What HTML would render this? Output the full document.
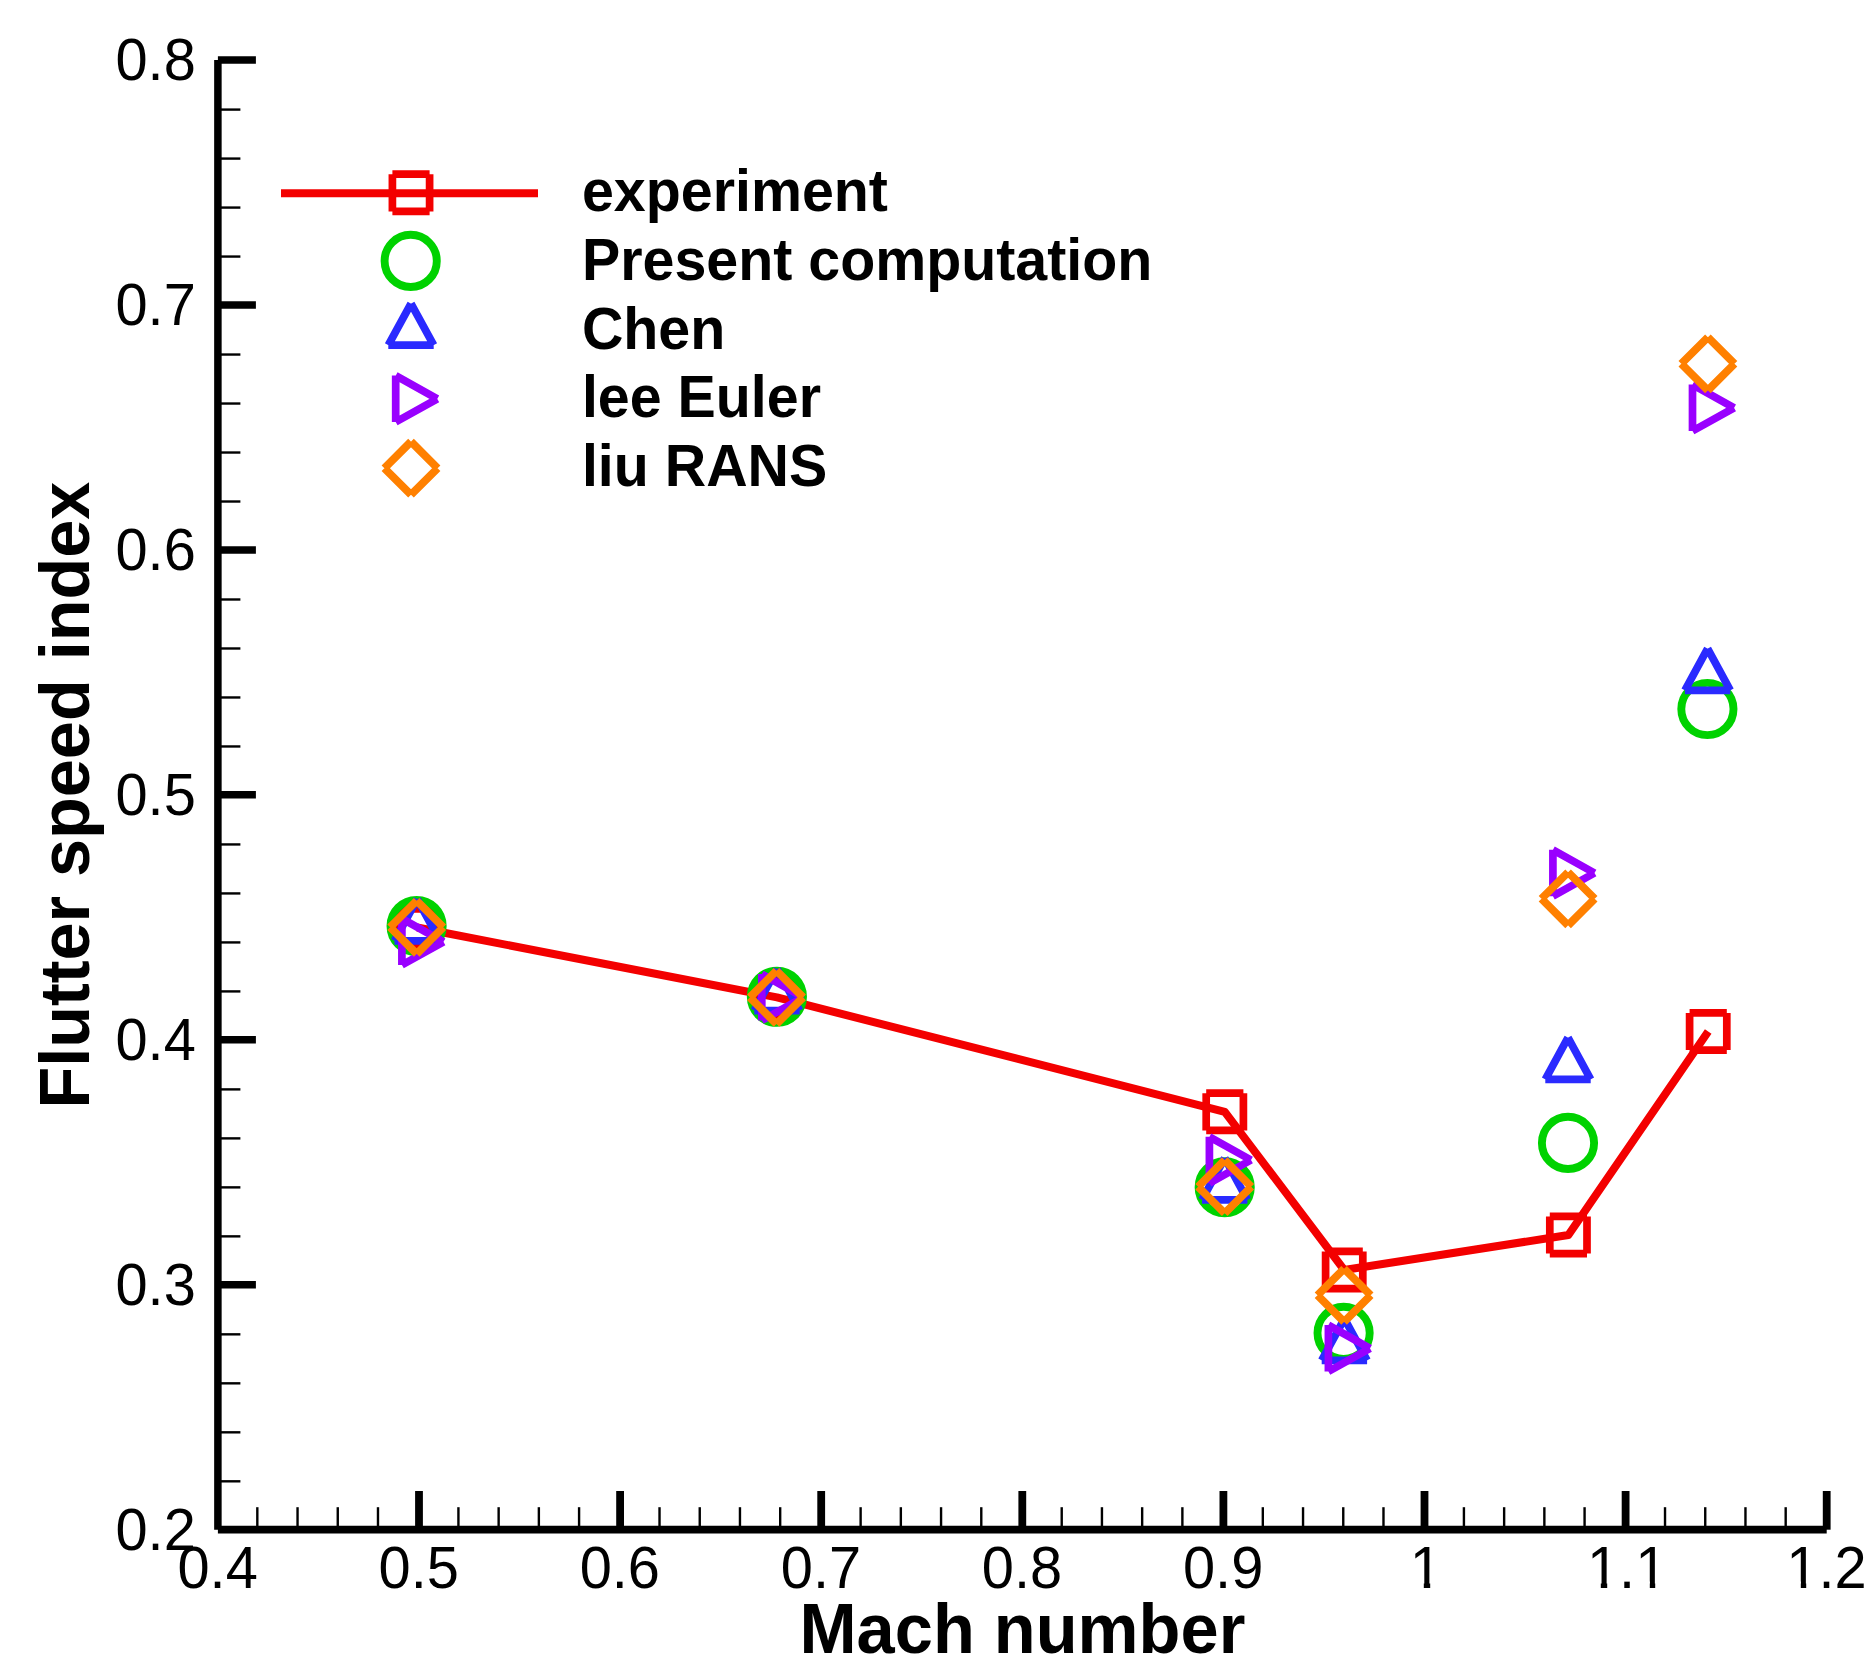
<!DOCTYPE html>
<html lang="en"><head><meta charset="utf-8"><title>Flutter speed index vs Mach number</title>
<style>html,body{margin:0;padding:0;background:#fff;}body{width:1874px;height:1680px;overflow:hidden;}svg{display:block;}text{font-family:"Liberation Sans",sans-serif;fill:#000;}.tk{font-size:59.6px;}.ttl{font-size:71px;font-weight:bold;}.lg{font-size:59.4px;font-weight:bold;}</style></head><body>
<svg role="img" aria-label="Flutter speed index versus Mach number" width="1874" height="1680" viewBox="0 0 1874 1680">
<rect x="0" y="0" width="1874" height="1680" fill="#fff"/>
<g stroke="#000" fill="none" stroke-linecap="butt">
<line x1="217.90" y1="60.00" x2="217.90" y2="1529.70" stroke-width="7.50"/>
<line x1="217.90" y1="1529.70" x2="1826.70" y2="1529.70" stroke-width="7.80"/>
<line x1="217.90" y1="1481.31" x2="240.40" y2="1481.31" stroke-width="2.40"/>
<line x1="217.90" y1="1432.32" x2="240.40" y2="1432.32" stroke-width="2.40"/>
<line x1="217.90" y1="1383.33" x2="240.40" y2="1383.33" stroke-width="2.40"/>
<line x1="217.90" y1="1334.34" x2="240.40" y2="1334.34" stroke-width="2.40"/>
<line x1="217.90" y1="1284.75" x2="255.90" y2="1284.75" stroke-width="7.50"/>
<line x1="217.90" y1="1236.36" x2="240.40" y2="1236.36" stroke-width="2.40"/>
<line x1="217.90" y1="1187.37" x2="240.40" y2="1187.37" stroke-width="2.40"/>
<line x1="217.90" y1="1138.38" x2="240.40" y2="1138.38" stroke-width="2.40"/>
<line x1="217.90" y1="1089.39" x2="240.40" y2="1089.39" stroke-width="2.40"/>
<line x1="217.90" y1="1039.80" x2="255.90" y2="1039.80" stroke-width="7.50"/>
<line x1="217.90" y1="991.41" x2="240.40" y2="991.41" stroke-width="2.40"/>
<line x1="217.90" y1="942.42" x2="240.40" y2="942.42" stroke-width="2.40"/>
<line x1="217.90" y1="893.43" x2="240.40" y2="893.43" stroke-width="2.40"/>
<line x1="217.90" y1="844.44" x2="240.40" y2="844.44" stroke-width="2.40"/>
<line x1="217.90" y1="794.85" x2="255.90" y2="794.85" stroke-width="7.50"/>
<line x1="217.90" y1="746.46" x2="240.40" y2="746.46" stroke-width="2.40"/>
<line x1="217.90" y1="697.47" x2="240.40" y2="697.47" stroke-width="2.40"/>
<line x1="217.90" y1="648.48" x2="240.40" y2="648.48" stroke-width="2.40"/>
<line x1="217.90" y1="599.49" x2="240.40" y2="599.49" stroke-width="2.40"/>
<line x1="217.90" y1="549.90" x2="255.90" y2="549.90" stroke-width="7.50"/>
<line x1="217.90" y1="501.51" x2="240.40" y2="501.51" stroke-width="2.40"/>
<line x1="217.90" y1="452.52" x2="240.40" y2="452.52" stroke-width="2.40"/>
<line x1="217.90" y1="403.53" x2="240.40" y2="403.53" stroke-width="2.40"/>
<line x1="217.90" y1="354.54" x2="240.40" y2="354.54" stroke-width="2.40"/>
<line x1="217.90" y1="304.95" x2="255.90" y2="304.95" stroke-width="7.50"/>
<line x1="217.90" y1="256.56" x2="240.40" y2="256.56" stroke-width="2.40"/>
<line x1="217.90" y1="207.57" x2="240.40" y2="207.57" stroke-width="2.40"/>
<line x1="217.90" y1="158.58" x2="240.40" y2="158.58" stroke-width="2.40"/>
<line x1="217.90" y1="109.59" x2="240.40" y2="109.59" stroke-width="2.40"/>
<line x1="217.90" y1="60.00" x2="255.90" y2="60.00" stroke-width="7.50"/>
<line x1="257.32" y1="1529.70" x2="257.32" y2="1507.20" stroke-width="2.40"/>
<line x1="297.54" y1="1529.70" x2="297.54" y2="1507.20" stroke-width="2.40"/>
<line x1="337.76" y1="1529.70" x2="337.76" y2="1507.20" stroke-width="2.40"/>
<line x1="377.98" y1="1529.70" x2="377.98" y2="1507.20" stroke-width="2.40"/>
<line x1="419.00" y1="1529.70" x2="419.00" y2="1491.00" stroke-width="7.80"/>
<line x1="458.42" y1="1529.70" x2="458.42" y2="1507.20" stroke-width="2.40"/>
<line x1="498.64" y1="1529.70" x2="498.64" y2="1507.20" stroke-width="2.40"/>
<line x1="538.86" y1="1529.70" x2="538.86" y2="1507.20" stroke-width="2.40"/>
<line x1="579.08" y1="1529.70" x2="579.08" y2="1507.20" stroke-width="2.40"/>
<line x1="620.10" y1="1529.70" x2="620.10" y2="1491.00" stroke-width="7.80"/>
<line x1="659.52" y1="1529.70" x2="659.52" y2="1507.20" stroke-width="2.40"/>
<line x1="699.74" y1="1529.70" x2="699.74" y2="1507.20" stroke-width="2.40"/>
<line x1="739.96" y1="1529.70" x2="739.96" y2="1507.20" stroke-width="2.40"/>
<line x1="780.18" y1="1529.70" x2="780.18" y2="1507.20" stroke-width="2.40"/>
<line x1="821.20" y1="1529.70" x2="821.20" y2="1491.00" stroke-width="7.80"/>
<line x1="860.62" y1="1529.70" x2="860.62" y2="1507.20" stroke-width="2.40"/>
<line x1="900.84" y1="1529.70" x2="900.84" y2="1507.20" stroke-width="2.40"/>
<line x1="941.06" y1="1529.70" x2="941.06" y2="1507.20" stroke-width="2.40"/>
<line x1="981.28" y1="1529.70" x2="981.28" y2="1507.20" stroke-width="2.40"/>
<line x1="1022.30" y1="1529.70" x2="1022.30" y2="1491.00" stroke-width="7.80"/>
<line x1="1061.72" y1="1529.70" x2="1061.72" y2="1507.20" stroke-width="2.40"/>
<line x1="1101.94" y1="1529.70" x2="1101.94" y2="1507.20" stroke-width="2.40"/>
<line x1="1142.16" y1="1529.70" x2="1142.16" y2="1507.20" stroke-width="2.40"/>
<line x1="1182.38" y1="1529.70" x2="1182.38" y2="1507.20" stroke-width="2.40"/>
<line x1="1223.40" y1="1529.70" x2="1223.40" y2="1491.00" stroke-width="7.80"/>
<line x1="1262.82" y1="1529.70" x2="1262.82" y2="1507.20" stroke-width="2.40"/>
<line x1="1303.04" y1="1529.70" x2="1303.04" y2="1507.20" stroke-width="2.40"/>
<line x1="1343.26" y1="1529.70" x2="1343.26" y2="1507.20" stroke-width="2.40"/>
<line x1="1383.48" y1="1529.70" x2="1383.48" y2="1507.20" stroke-width="2.40"/>
<line x1="1424.50" y1="1529.70" x2="1424.50" y2="1491.00" stroke-width="7.80"/>
<line x1="1463.92" y1="1529.70" x2="1463.92" y2="1507.20" stroke-width="2.40"/>
<line x1="1504.14" y1="1529.70" x2="1504.14" y2="1507.20" stroke-width="2.40"/>
<line x1="1544.36" y1="1529.70" x2="1544.36" y2="1507.20" stroke-width="2.40"/>
<line x1="1584.58" y1="1529.70" x2="1584.58" y2="1507.20" stroke-width="2.40"/>
<line x1="1625.60" y1="1529.70" x2="1625.60" y2="1491.00" stroke-width="7.80"/>
<line x1="1665.02" y1="1529.70" x2="1665.02" y2="1507.20" stroke-width="2.40"/>
<line x1="1705.24" y1="1529.70" x2="1705.24" y2="1507.20" stroke-width="2.40"/>
<line x1="1745.46" y1="1529.70" x2="1745.46" y2="1507.20" stroke-width="2.40"/>
<line x1="1785.68" y1="1529.70" x2="1785.68" y2="1507.20" stroke-width="2.40"/>
<line x1="1826.70" y1="1529.70" x2="1826.70" y2="1491.00" stroke-width="7.80"/>
</g>
<g class="tk">
<text transform="translate(195.80,1550.10) scale(0.9700,1)" text-anchor="end">0.2</text>
<text transform="translate(195.80,1305.15) scale(0.9700,1)" text-anchor="end">0.3</text>
<text transform="translate(195.80,1060.20) scale(0.9700,1)" text-anchor="end">0.4</text>
<text transform="translate(195.80,815.25) scale(0.9700,1)" text-anchor="end">0.5</text>
<text transform="translate(195.80,570.30) scale(0.9700,1)" text-anchor="end">0.6</text>
<text transform="translate(195.80,325.35) scale(0.9700,1)" text-anchor="end">0.7</text>
<text transform="translate(195.80,80.40) scale(0.9700,1)" text-anchor="end">0.8</text>
<text transform="translate(217.60,1587.90) scale(0.9700,1)" text-anchor="middle">0.4</text>
<text transform="translate(418.70,1587.90) scale(0.9700,1)" text-anchor="middle">0.5</text>
<text transform="translate(619.80,1587.90) scale(0.9700,1)" text-anchor="middle">0.6</text>
<text transform="translate(820.90,1587.90) scale(0.9700,1)" text-anchor="middle">0.7</text>
<text transform="translate(1022.00,1587.90) scale(0.9700,1)" text-anchor="middle">0.8</text>
<text transform="translate(1223.10,1587.90) scale(0.9700,1)" text-anchor="middle">0.9</text>
<text transform="translate(1425.90,1587.90) scale(0.9700,1)" text-anchor="middle">1</text>
<text transform="translate(1627.10,1587.90) scale(0.9700,1)" text-anchor="middle">1.1</text>
<text transform="translate(1826.40,1587.90) scale(0.9700,1)" text-anchor="middle">1.2</text>
</g>
<text class="ttl" transform="translate(1022.40,1652.80) scale(0.9660,1)" text-anchor="middle">Mach number</text>
<text class="ttl" transform="translate(89.40,795.20) rotate(-90) scale(0.9631,1)" text-anchor="middle">Flutter speed index</text>
<g fill="none" stroke-width="7.70" stroke-linejoin="bevel">
<polyline points="417.20,927.50 777.00,997.40 1224.80,1111.80 1344.20,1270.00 1568.40,1235.00 1708.20,1031.50" stroke="#f30000" stroke-linejoin="round" stroke-linecap="butt" stroke-width="8.0"/>
<path d="M398.60 908.90L435.80 908.90M435.80 908.90L435.80 946.10M435.80 946.10L398.60 946.10M398.60 946.10L398.60 908.90" stroke="#f30000"/>
<path d="M758.40 978.80L795.60 978.80M795.60 978.80L795.60 1016.00M795.60 1016.00L758.40 1016.00M758.40 1016.00L758.40 978.80" stroke="#f30000"/>
<path d="M1206.20 1093.20L1243.40 1093.20M1243.40 1093.20L1243.40 1130.40M1243.40 1130.40L1206.20 1130.40M1206.20 1130.40L1206.20 1093.20" stroke="#f30000"/>
<path d="M1325.60 1251.40L1362.80 1251.40M1362.80 1251.40L1362.80 1288.60M1362.80 1288.60L1325.60 1288.60M1325.60 1288.60L1325.60 1251.40" stroke="#f30000"/>
<path d="M1549.80 1216.40L1587.00 1216.40M1587.00 1216.40L1587.00 1253.60M1587.00 1253.60L1549.80 1253.60M1549.80 1253.60L1549.80 1216.40" stroke="#f30000"/>
<path d="M1689.60 1012.90L1726.80 1012.90M1726.80 1012.90L1726.80 1050.10M1726.80 1050.10L1689.60 1050.10M1689.60 1050.10L1689.60 1012.90" stroke="#f30000"/>
<circle cx="416.60" cy="926.00" r="26.10" stroke="#00d200" stroke-width="7.9"/>
<circle cx="776.90" cy="996.70" r="26.10" stroke="#00d200" stroke-width="7.9"/>
<circle cx="1224.70" cy="1187.30" r="26.10" stroke="#00d200" stroke-width="7.9"/>
<circle cx="1343.60" cy="1332.90" r="26.10" stroke="#00d200" stroke-width="7.9"/>
<circle cx="1568.00" cy="1142.90" r="26.10" stroke="#00d200" stroke-width="7.9"/>
<circle cx="1707.40" cy="709.00" r="26.10" stroke="#00d200" stroke-width="7.9"/>
<path d="M417.20 899.20L439.90 940.80M439.90 940.80L394.50 940.80M394.50 940.80L417.20 899.20" stroke="#2a2aff"/>
<path d="M777.00 969.00L799.70 1010.60M799.70 1010.60L754.30 1010.60M754.30 1010.60L777.00 969.00" stroke="#2a2aff"/>
<path d="M1224.70 1158.20L1247.40 1199.80M1247.40 1199.80L1202.00 1199.80M1202.00 1199.80L1224.70 1158.20" stroke="#2a2aff"/>
<path d="M1344.40 1318.70L1367.10 1360.30M1367.10 1360.30L1321.70 1360.30M1321.70 1360.30L1344.40 1318.70" stroke="#2a2aff"/>
<path d="M1568.00 1037.70L1590.70 1079.30M1590.70 1079.30L1545.30 1079.30M1545.30 1079.30L1568.00 1037.70" stroke="#2a2aff"/>
<path d="M1707.60 648.70L1730.30 690.30M1730.30 690.30L1684.90 690.30M1684.90 690.30L1707.60 648.70" stroke="#2a2aff"/>
<path d="M443.50 941.80L401.90 965.00M401.90 965.00L401.90 918.60M401.90 918.60L443.50 941.80" stroke="#9900ff"/>
<path d="M803.40 997.30L761.80 1020.50M761.80 1020.50L761.80 974.10M761.80 974.10L803.40 997.30" stroke="#9900ff"/>
<path d="M1251.00 1160.00L1209.40 1183.20M1209.40 1183.20L1209.40 1136.80M1209.40 1136.80L1251.00 1160.00" stroke="#9900ff"/>
<path d="M1370.00 1348.30L1328.40 1371.50M1328.40 1371.50L1328.40 1325.10M1328.40 1325.10L1370.00 1348.30" stroke="#9900ff"/>
<path d="M1594.50 873.00L1552.90 896.20M1552.90 896.20L1552.90 849.80M1552.90 849.80L1594.50 873.00" stroke="#9900ff"/>
<path d="M1734.10 407.80L1692.50 431.00M1692.50 431.00L1692.50 384.60M1692.50 384.60L1734.10 407.80" stroke="#9900ff"/>
<path d="M416.70 900.70L443.30 927.30M443.30 927.30L416.70 953.90M416.70 953.90L390.10 927.30M390.10 927.30L416.70 900.70" stroke="#ff8000" stroke-width="7.9"/>
<path d="M776.50 970.80L803.10 997.40M803.10 997.40L776.50 1024.00M776.50 1024.00L749.90 997.40M749.90 997.40L776.50 970.80" stroke="#ff8000" stroke-width="7.9"/>
<path d="M1224.70 1160.10L1251.30 1186.70M1251.30 1186.70L1224.70 1213.30M1224.70 1213.30L1198.10 1186.70M1198.10 1186.70L1224.70 1160.10" stroke="#ff8000" stroke-width="7.9"/>
<path d="M1344.10 1268.70L1370.70 1295.30M1370.70 1295.30L1344.10 1321.90M1344.10 1321.90L1317.50 1295.30M1317.50 1295.30L1344.10 1268.70" stroke="#ff8000" stroke-width="7.9"/>
<path d="M1568.10 872.20L1594.70 898.80M1594.70 898.80L1568.10 925.40M1568.10 925.40L1541.50 898.80M1541.50 898.80L1568.10 872.20" stroke="#ff8000" stroke-width="7.9"/>
<path d="M1707.90 337.20L1734.50 363.80M1734.50 363.80L1707.90 390.40M1707.90 390.40L1681.30 363.80M1681.30 363.80L1707.90 337.20" stroke="#ff8000" stroke-width="7.9"/>
<line x1="281" y1="193.30" x2="538" y2="193.30" stroke="#f30000" stroke-width="8.0"/>
<path d="M392.40 174.20L429.60 174.20M429.60 174.20L429.60 211.40M429.60 211.40L392.40 211.40M392.40 211.40L392.40 174.20" stroke="#f30000"/>
<circle cx="410.70" cy="260.90" r="26.10" stroke="#00d200" stroke-width="7.9"/>
<path d="M411.00 303.60L433.70 345.20M433.70 345.20L388.30 345.20M388.30 345.20L411.00 303.60" stroke="#2a2aff"/>
<path d="M437.30 398.80L395.70 422.00M395.70 422.00L395.70 375.60M395.70 375.60L437.30 398.80" stroke="#9900ff"/>
<path d="M411.00 441.60L437.60 468.20M437.60 468.20L411.00 494.80M411.00 494.80L384.40 468.20M384.40 468.20L411.00 441.60" stroke="#ff8000" stroke-width="7.9"/>
</g>
<g class="lg">
<text transform="translate(581.90,210.90) scale(0.9660,1)">experiment</text>
<text transform="translate(581.90,279.80) scale(0.9660,1)">Present computation</text>
<text transform="translate(581.90,348.50) scale(0.9660,1)">Chen</text>
<text transform="translate(581.90,417.10) scale(0.9660,1)">lee Euler</text>
<text transform="translate(581.90,486.30) scale(0.9660,1)">liu RANS</text>
</g>
<rect x="1412.0" y="1581.5" width="11.8" height="8.0" fill="#fff"/>
<rect x="1430.2" y="1581.5" width="10.8" height="8.0" fill="#fff"/>
<rect x="1589.0" y="1581.5" width="11.8" height="8.0" fill="#fff"/>
<rect x="1607.2" y="1581.5" width="10.8" height="8.0" fill="#fff"/>
<rect x="1638.0" y="1581.5" width="11.8" height="8.0" fill="#fff"/>
<rect x="1655.2" y="1581.5" width="11.8" height="8.0" fill="#fff"/>
<rect x="1789.0" y="1581.5" width="11.8" height="8.0" fill="#fff"/>
<rect x="1806.2" y="1581.5" width="11.8" height="8.0" fill="#fff"/>
</svg></body></html>
